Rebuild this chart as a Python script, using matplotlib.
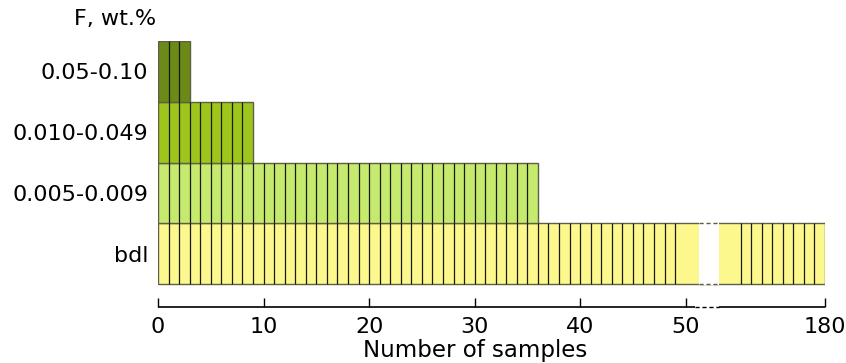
import matplotlib
matplotlib.use("Agg")
import matplotlib.pyplot as plt
import matplotlib.transforms as mtransforms
import numpy as np

plt.rcParams['font.family'] = ['DejaVu Sans']

# ---- data ----
categories = ["bdl", "0.005-0.009", "0.010-0.049", "0.05-0.10"]
counts = [180, 36, 9, 3]
colors = ["#fdf88e", "#c6ea6e", "#9dc51c", "#6b8a17"]
xticks = [0, 10, 20, 30, 40, 50, 180]
xticklabels = ["0", "10", "20", "30", "40", "50", "180"]

# axis break settings (data units)
brk_lo, brk_hi = 50, 172       # compressed range
shown_until = 49               # last individually drawn cell before break
gap_lo, gap_hi = 80, 125       # white gap inside the break

k = 5.2 / (brk_hi - brk_lo)


def fwd(x):
    x = np.asarray(x, dtype=float)
    return np.where(x <= brk_lo, x,
                    np.where(x < brk_hi, brk_lo + (x - brk_lo) * k,
                             x - brk_hi + brk_lo + (brk_hi - brk_lo) * k))


def inv(y):
    y = np.asarray(y, dtype=float)
    top = brk_lo + (brk_hi - brk_lo) * k
    return np.where(y <= brk_lo, y,
                    np.where(y < top, brk_lo + (y - brk_lo) / k,
                             y - top + brk_hi))


fig = plt.figure(figsize=(8.46, 3.63), dpi=100)
W, H = 846, 363
ax = fig.add_axes([158 / W, 1 - 307 / H, (825 - 158) / W, (307 - 41) / H])
ax.set_xscale('function', functions=(fwd, inv))
ax.set_xlim(0, 180)
ax.set_ylim(-0.5 - 0.378, 3.5)

edge_outer = "#5f5f45"
for yi, (cat, n, col) in enumerate(zip(categories, counts, colors)):
    ax.barh(yi, n, height=1.0, left=0, color=col, edgecolor=edge_outer,
            linewidth=1.0, zorder=2)
    for i in range(1, n):
        if n > brk_hi and shown_until < i < brk_hi:
            continue
        ax.plot([i, i], [yi - 0.5, yi + 0.5], color="#1a1a10", lw=0.9,
                zorder=3, solid_capstyle='butt')
    if n > brk_hi:
        ax.fill_between([gap_lo, gap_hi], yi - 0.5 - 0.02, yi + 0.5 + 0.02,
                        color="white", zorder=4, lw=0)
        for yy in (yi - 0.5, yi + 0.5):
            ax.plot([gap_lo, gap_hi], [yy, yy], color=edge_outer, lw=1.0,
                    ls=(0, (3, 2)), zorder=5)

for s in ['left', 'right', 'top', 'bottom']:
    ax.spines[s].set_visible(False)

# bottom axis line with break
trans = mtransforms.blended_transform_factory(ax.transData, ax.transAxes)
ax.plot([0, gap_lo - 10], [0, 0], color="black", lw=1.2, transform=trans,
        clip_on=False, solid_capstyle='butt')
ax.plot([gap_lo - 10, gap_hi], [0, 0], color="black", lw=1.0, transform=trans,
        clip_on=False, ls=(0, (3, 2)), solid_capstyle='butt')
ax.plot([gap_hi, 180], [0, 0], color="black", lw=1.2, transform=trans,
        clip_on=False, solid_capstyle='butt')

ax.set_xticks(xticks)
ax.set_xticklabels(xticklabels)
ax.tick_params(axis='x', direction='in', length=6.5, width=1.0,
               labelsize=16, pad=7, colors='black')
ax.set_yticks(range(len(categories)))
ax.set_yticklabels(categories)
ax.tick_params(axis='y', length=0, labelsize=16, pad=7)
ax.minorticks_off()

fig.text(475 / W, 1 - 350 / H, "Number of samples", ha='center', va='center',
         fontsize=16.5)
fig.text(156 / W, 1 - 19 / H, "F, wt.%", ha='right', va='center', fontsize=16)

fig.savefig("out.png", dpi=100)
